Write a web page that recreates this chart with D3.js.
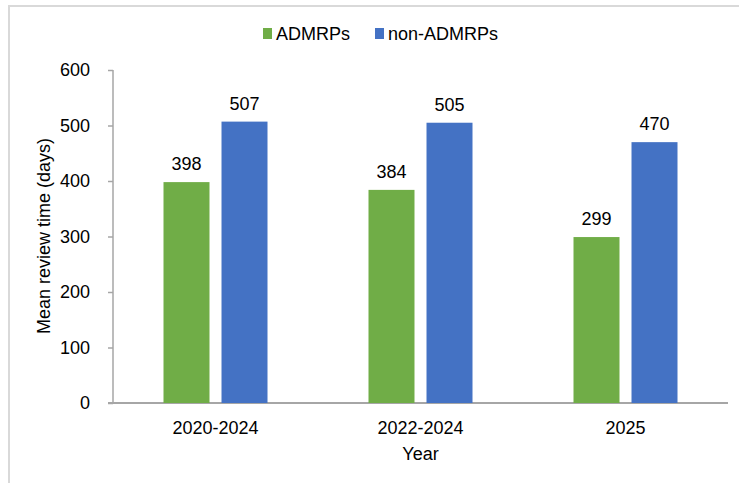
<!DOCTYPE html>
<html>
<head>
<meta charset="utf-8">
<script src="https://cdn.jsdelivr.net/npm/d3@7"></script>
<style>
body { margin: 0; background: white; }
text { font-family: "Liberation Sans", Arial, sans-serif; fill: #000; }
</style>
</head>
<body>
<svg></svg>
<script>
var w = 739
var h = 483

var years = ["2020-2024", "2022-2024", "2025"]
var seriesNames = ["ADMRPs", "non-ADMRPs"]
var admrps = [398, 384, 299]
var nonAdmrps = [507, 505, 470]
var yTicks = [0, 100, 200, 300, 400, 500, 600]
var colors = ["#70ad47", "#4472c4"]

var svg = d3.select("svg")
	.attr("width", w)
	.attr("height", h)

// light frame, cut at right and bottom
svg.append("path")
	.attr("d", "M9," + h + "V6H" + w)
	.attr("fill", "none")
	.attr("stroke", "#d9d9d9")
	.attr("stroke-width", 2)

var pLeft = 113, pRight = 728, pTop = 70, pBottom = 403
var groupW = 104

var x = d3.scaleBand().domain(years).range([pLeft, pRight])
var xInner = d3.scaleBand().domain(seriesNames)
	.range([0, groupW]).paddingInner(0.207)
var y = d3.scaleLinear().domain([0, 600]).range([pBottom, pTop])

var data = years.map(function(d, i){
	return {year: d, vals: [admrps[i], nonAdmrps[i]]}
})

// y axis
var yAxis = svg.append("g")
	.attr("transform", "translate(" + pLeft + ",0)")
	.call(d3.axisLeft(y).tickValues(yTicks).tickSize(5).tickPadding(18))
yAxis.selectAll("line, path").attr("stroke", "#a6a6a6").attr("stroke-width", 1.5)
yAxis.select(".domain").attr("d", "M0," + pBottom + "V" + pTop)
yAxis.selectAll("text").style("font-size", "18px").attr("fill", "#000")

// x axis
var xAxis = svg.append("g")
	.attr("transform", "translate(0," + pBottom + ")")
	.call(d3.axisBottom(x).tickSize(0).tickPadding(18))
xAxis.select(".domain").attr("d", "M" + (pLeft - 5) + ",0H" + pRight)
	.attr("stroke", "#a6a6a6").attr("stroke-width", 2)
xAxis.selectAll("text").style("font-size", "18px").attr("fill", "#000")

var groups = svg.selectAll(".grp")
	.data(data)
	.join("g")
	.attr("class", "grp")
	.attr("transform", function(d){
		return "translate(" + (x(d.year) + (x.bandwidth() - groupW) / 2) + ",0)"
	})

groups.selectAll("rect")
	.data(function(d){
		return d.vals.map(function(v, i){ return {name: seriesNames[i], v: v, c: colors[i]} })
	})
	.join("rect")
	.attr("x", function(d){ return xInner(d.name) })
	.attr("width", xInner.bandwidth())
	.attr("y", function(d){ return y(d.v) })
	.attr("height", function(d){ return pBottom - y(d.v) })
	.attr("fill", function(d){ return d.c })

groups.selectAll(".lbl")
	.data(function(d){
		return d.vals.map(function(v, i){ return {name: seriesNames[i], v: v} })
	})
	.join("text")
	.attr("class", "lbl")
	.attr("x", function(d){ return xInner(d.name) + xInner.bandwidth() / 2 })
	.attr("y", function(d){ return y(d.v) - 12 })
	.attr("text-anchor", "middle")
	.style("font-size", "18px")
	.text(function(d){ return d.v })

// axis titles
svg.append("text")
	.attr("transform", "translate(50,236) rotate(-90)")
	.attr("text-anchor", "middle")
	.style("font-size", "18px")
	.text("Mean review time (days)")

svg.append("text")
	.attr("x", (pLeft + pRight) / 2)
	.attr("y", 460)
	.attr("text-anchor", "middle")
	.style("font-size", "18px")
	.text("Year")

// legend
var legendX = [263, 375]
var leg = svg.selectAll(".leg")
	.data(seriesNames)
	.join("g")
	.attr("class", "leg")
	.attr("transform", function(d, i){ return "translate(" + legendX[i] + ",28)" })
leg.append("rect")
	.attr("width", 9).attr("height", 11)
	.attr("fill", function(d, i){ return colors[i] })
leg.append("text")
	.attr("x", 13)
	.attr("y", 12)
	.style("font-size", "18px")
	.text(function(d){ return d })
</script>
</body>
</html>
